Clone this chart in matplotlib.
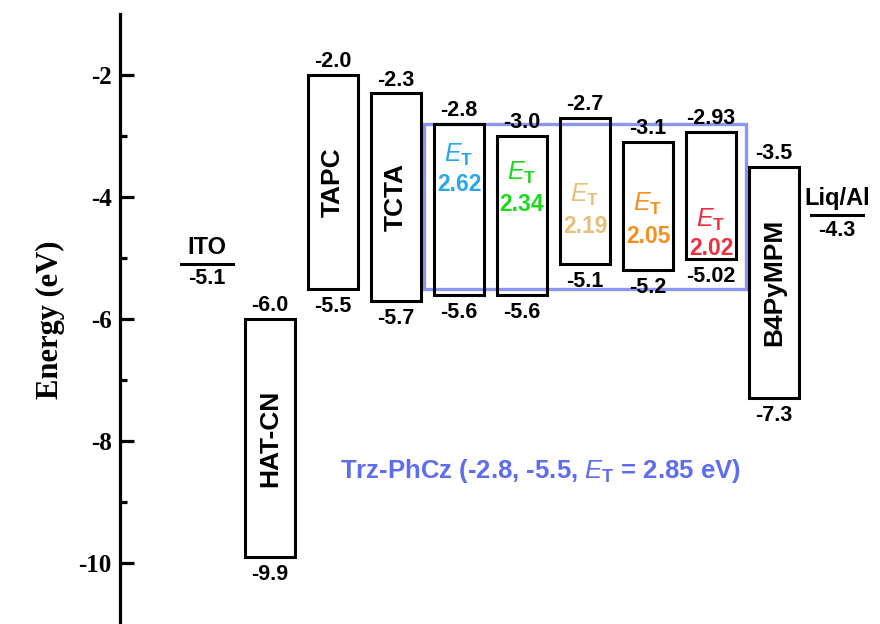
import matplotlib
matplotlib.use("Agg")
import matplotlib.pyplot as plt
from matplotlib.patches import Rectangle

# ---- data ----
box_names = ["HAT-CN", "TAPC", "TCTA", "", "", "", "", "", "B4PyMPM"]
box_lumo = [-6.0, -2.0, -2.3, -2.8, -3.0, -2.7, -3.1, -2.93, -3.5]
box_homo = [-9.9, -5.5, -5.7, -5.6, -5.6, -5.1, -5.2, -5.02, -7.3]
box_lumo_lbl = ["-6.0", "-2.0", "-2.3", "-2.8", "-3.0", "-2.7", "-3.1", "-2.93", "-3.5"]
box_homo_lbl = ["-9.9", "-5.5", "-5.7", "-5.6", "-5.6", "-5.1", "-5.2", "-5.02", "-7.3"]
et_values = ["2.62", "2.34", "2.19", "2.05", "2.02"]
et_colors = ["#2AA6EC", "#1ED81E", "#E6C07A", "#F5901E", "#EC3040"]
electrode_names = ["ITO", "Liq/Al"]
electrode_levels = [-5.1, -4.3]
host_lumo, host_homo = -2.8, -5.5
host_label = "Trz-PhCz (-2.8, -5.5, $\\mathit{E}_\\mathrm{T}$ = 2.85 eV)"
yticks = [-2, -4, -6, -8, -10]
ytick_minor = [-3, -5, -7, -9]

# ---- layout ----
box_x = [1, 2, 3, 4, 5, 6, 7, 8, 9]
electrode_x = [0, 10]
et_label_y = [(-3.31, -3.79), (-3.61, -4.13), (-3.97, -4.48), (-4.11, -4.64), (-4.38, -4.84)]
bw = 0.79
lw_e = 0.84

plt.rcParams['font.family'] = ['Liberation Sans', 'DejaVu Sans']
plt.rcParams['mathtext.fontset'] = 'custom'
plt.rcParams['mathtext.rm'] = 'Liberation Sans:bold'
plt.rcParams['mathtext.it'] = 'Liberation Sans:italic'
plt.rcParams['mathtext.bf'] = 'Liberation Sans:bold'

fig = plt.figure(figsize=(8.8, 6.24), dpi=100)
x0 = 120
ax = fig.add_axes([x0/880, -2/624, (880 - x0)/880, 612/624])
ax.set_xlim((x0 - 207)/63, (880 - 207)/63)
ax.set_ylim(-11.03, -1.0)

for s in ["top", "right", "bottom"]:
    ax.spines[s].set_visible(False)
ax.spines["left"].set_linewidth(2.3)
ax.set_xticks([])
ax.set_yticks(yticks)
ax.set_yticks(ytick_minor, minor=True)
ax.set_yticklabels([str(v) for v in yticks])
ax.tick_params(axis='y', which='major', direction='in', length=10, width=2.3, pad=6)
ax.tick_params(axis='y', which='minor', direction='in', length=5, width=2.3)
for t in ax.get_yticklabels():
    t.set_fontfamily('Liberation Serif')
    t.set_fontweight('bold')
    t.set_fontsize(18)
ax.set_ylabel("Energy (eV)", fontfamily='Liberation Serif', fontweight='bold',
              fontsize=22, labelpad=10)

# host blue rectangle
ax.add_patch(Rectangle((3.44, host_homo), 8.56 - 3.44, host_lumo - host_homo,
                       fill=False, edgecolor="#8A96F2", lw=2.4, zorder=1))

val_fs = 15.5
for i, (x, lu, ho) in enumerate(zip(box_x, box_lumo, box_homo)):
    ax.add_patch(Rectangle((x - bw/2, ho), bw, lu - ho, fill=False,
                           edgecolor="black", lw=2.2, zorder=2))
    ax.annotate(box_lumo_lbl[i], (x, lu), xytext=(0, 2), textcoords='offset points',
                ha='center', va='bottom', fontsize=val_fs, fontweight='bold')
    ax.annotate(box_homo_lbl[i], (x, ho), xytext=(0, -5), textcoords='offset points',
                ha='center', va='top', fontsize=val_fs, fontweight='bold')
    if box_names[i]:
        ax.text(x, (lu + ho) / 2, box_names[i], rotation=90, ha='center', va='center',
                fontsize=19, fontweight='bold')

for j, (val, col, (ye, yv)) in enumerate(zip(et_values, et_colors, et_label_y)):
    x = box_x[3 + j]
    ax.text(x, ye, "$\\mathit{E}_\\mathrm{T}$", color=col, ha='center', va='center',
            fontsize=18)
    ax.text(x, yv, val, color=col, ha='center', va='center', fontsize=16.5,
            fontweight='bold')

name_fs = [17, 17]
for k, (name, lev, x) in enumerate(zip(electrode_names, electrode_levels, electrode_x)):
    ax.plot([x - lw_e/2, x + lw_e/2], [lev, lev], color='black', lw=2.2)
    ax.annotate(name, (x, lev), xytext=(0, 4), textcoords='offset points',
                ha='center', va='bottom', fontsize=name_fs[k], fontweight='bold')
    ax.annotate(f"{lev}", (x, lev), xytext=(0, -3), textcoords='offset points',
                ha='center', va='top', fontsize=val_fs, fontweight='bold')

ax.text(5.29, -8.49, host_label, color="#5E6CF0", ha='center', va='center',
        fontsize=18.5, fontweight='bold')

fig.savefig("out.png", dpi=100)
